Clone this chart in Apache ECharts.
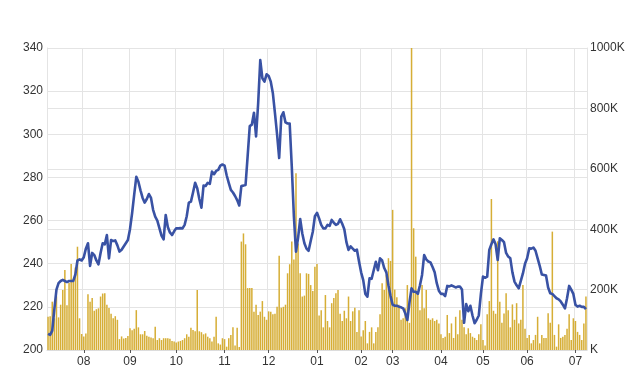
<!DOCTYPE html>
<html>
<head>
<meta charset="utf-8">
<script src="https://cdn.jsdelivr.net/npm/echarts@6/dist/echarts.min.js"></script>
<style>
html,body{margin:0;padding:0;background:#fff;}
#c{width:640px;height:378px;}
</style>
</head>
<body>
<div id="c"></div>
<script>
// Month labels and number of trading days in each month shown
const months = ['07','08','09','10','11','12','01','02','03','04','05','06','07'];
const monthDays = [17,22,22,23,21,23,21,15,23,20,21,23,6];

// Price (left axis)
const price = [
207.5,207,209,219,228,231,232,232.5,232,231.5,
232,232,232,235,241.5,242,241.5,243,247,249.5,
239,245,244,241.5,239.7,245,249.5,249,253.3,242.5,
251,250.5,250.8,248.5,245.6,246.5,248,249.5,251,256,
263.4,272,280.3,278,274,270.5,268.3,270,272.3,270.5,
265,261.8,260,256.5,253,251.3,262.6,257,254.5,253.3,
255,256.4,256.4,256.5,256.4,258,262,268.3,268.8,273,
277.5,275,270,266,276.2,276,277.5,277,282.7,281.5,
283,283.5,285.5,286,285.5,281,277.5,274.2,273,271.4,
269.5,267,276,276.2,276.5,290,303.8,304.5,310,299,
314.4,334.4,326,324.4,327.8,327,324.4,319,309.7,300,
289,308.2,310.2,305.5,305,305,285,262,245.6,252,
260.7,254,249.5,247,246,250.5,254.8,262,263.6,261,
258,256.4,256.4,258,257.5,260.3,259,258,258.5,260.6,
258.5,256,250,246.4,248,247,246,246.5,241,236,
232.4,226,224.7,233.2,233,237,240.9,237,242.5,241.5,
238,236,230,225,221,220.5,220.5,220.1,219.8,219.3,
217,213.9,222,228.6,227,227,226,230,234.8,244,
242,241,240.6,238.5,236,231,227.5,226,226,225,
229.7,229.5,230,229.5,229,229.4,229.4,228,212.6,221.3,
218,220.5,216,212.4,214,216,226,234,233.5,234,
246.4,249,251.3,249,241.7,251.8,251,250,245,243.3,
242.5,236,231.7,230,228.6,232,235.5,240,242.5,247.1,
247,247.5,246,242.5,239,235,234.8,234.5,229,226.3,
226,225,224,223.5,222.5,221,219.3,224,229.7,228,
226,221,220.1,220.5,220,220,218.9
];

// Volume in K (right axis)
const volume = [
110,112,160,105,178,108,150,199,265,148,
222,285,232,273,342,105,53,45,55,185,
160,172,130,135,138,177,187,188,150,139,
120,105,112,100,36,45,38,40,46,72,
65,70,132,75,52,52,63,47,44,41,
39,77,33,39,33,39,39,39,37,30,
28,25,28,30,33,39,52,44,74,66,
62,199,62,59,52,55,44,39,28,44,
110,22,18,39,36,11,39,50,75,15,
74,10,359,386,350,205,205,205,127,150,
116,127,162,110,100,128,127,118,120,143,
312,140,143,150,254,284,359,300,585,353,
254,177,180,254,252,215,195,276,285,114,
132,75,182,96,75,155,172,188,199,120,
96,130,105,177,96,128,140,60,132,45,
65,96,22,60,75,22,60,75,118,221,
199,248,304,295,464,200,175,150,100,105,
138,215,90,1000,403,309,193,132,215,138,
199,105,100,105,96,100,88,52,40,44,
116,56,88,40,110,52,132,100,75,52,
72,56,44,40,33,52,85,33,15,118,
162,500,130,120,360,160,90,121,188,132,
75,151,100,155,88,100,215,70,40,50,
22,33,50,110,22,50,40,40,122,90,
392,50,11,85,40,44,50,70,118,33,
105,96,60,50,33,88,177
];

const leftTicks = {min:200, max:340, step:20};
const rightTicks = {min:0, max:1000, step:200};

const categories = [];
months.forEach((m, mi) => {
  for (let d = 0; d < monthDays[mi]; d++) categories.push(mi + '|' + m + '|' + d);
});
const isMonthStart = (idx, val) => {
  const p = String(val).split('|');
  return p[2] === '0' && p[0] !== '0';
};

const gridColor = '#e4e4e4';
const font = "'Liberation Sans', Arial, sans-serif";
const chart = echarts.init(document.getElementById('c'), null, {renderer:'canvas'});
chart.setOption({
  animation: false,
  backgroundColor: '#fff',
  grid: {left:47, right:53, top:48, bottom:28, containLabel:false},
  xAxis: {
    type: 'category',
    data: categories,
    boundaryGap: true,
    axisLine: {show:true, lineStyle:{color:'#dcdcdc'}},
    axisTick: {show:true, interval:isMonthStart, alignWithLabel:true, length:3, lineStyle:{color:'#555'}},
    axisLabel: {interval:isMonthStart, formatter: v => String(v).split('|')[1], color:'#333', fontSize:12, fontFamily:font, margin:6},
    splitLine: {show:true, interval:isMonthStart, lineStyle:{color:gridColor, width:1}}
  },
  yAxis: [
    {
      type:'value', position:'left', min:leftTicks.min, max:leftTicks.max, interval:leftTicks.step,
      axisLine:{show:true, lineStyle:{color:gridColor}},
      axisTick:{show:false},
      axisLabel:{color:'#333', fontSize:12, fontFamily:font, margin:4},
      splitLine:{show:true, lineStyle:{color:gridColor}}
    },
    {
      type:'value', position:'right', min:rightTicks.min, max:rightTicks.max, interval:rightTicks.step,
      axisLine:{show:true, lineStyle:{color:gridColor}},
      axisTick:{show:false},
      axisLabel:{color:'#333', fontSize:12, fontFamily:font, margin:3, formatter: v => (v === 0 ? '' : v) + 'K'},
      splitLine:{show:true, lineStyle:{color:gridColor}}
    }
  ],
  series: [
    {
      type:'bar', yAxisIndex:1, data: volume, barWidth:'72%',
      itemStyle:{color:'#d6ae36'}, z:2
    },
    {
      type:'line', yAxisIndex:0, data: price, symbol:'none', smooth:false,
      lineStyle:{color:'#3952a4', width:2.6, join:'round'}, z:3
    }
  ]
});
</script>
</body>
</html>
